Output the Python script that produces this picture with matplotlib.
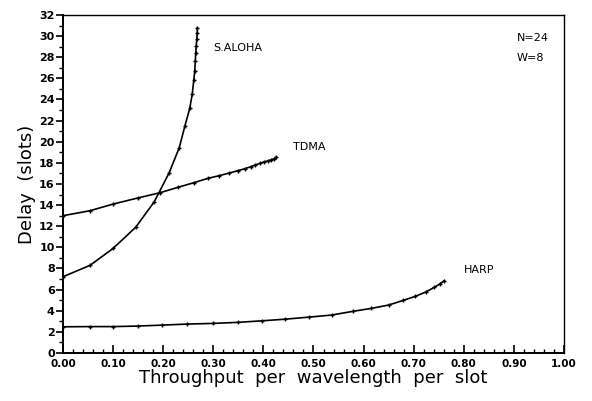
import matplotlib
matplotlib.use('Agg')
import matplotlib.pyplot as plt
from matplotlib.ticker import MultipleLocator

# S.ALOHA curve (throughput, delay)
aloha_x = [0.0, 0.054, 0.100, 0.145, 0.182, 0.212, 0.232, 0.2435, 0.253, 0.258,
           0.261, 0.263, 0.264, 0.265, 0.266, 0.267, 0.268, 0.268]
aloha_y = [7.22, 8.3, 9.9, 11.9, 14.3, 17.07, 19.43, 21.52, 23.16, 24.52,
           25.8, 26.7, 27.6, 28.4, 29.1, 29.7, 30.3, 30.8]

# TDMA curve
tdma_x = [0.0, 0.054, 0.100, 0.149, 0.194, 0.229, 0.261, 0.289, 0.311, 0.332,
          0.349, 0.363, 0.375, 0.384, 0.393, 0.402, 0.410, 0.416, 0.422, 0.426]
tdma_y = [13.0, 13.47, 14.1, 14.67, 15.18, 15.68, 16.12, 16.53, 16.78, 17.04,
          17.26, 17.45, 17.64, 17.8, 17.95, 18.1, 18.2, 18.3, 18.4, 18.55]

# HARP curve
harp_x = [0.0, 0.053, 0.100, 0.149, 0.198, 0.248, 0.299, 0.349, 0.398, 0.443,
          0.492, 0.536, 0.578, 0.615, 0.650, 0.679, 0.703, 0.724, 0.741, 0.752, 0.761]
harp_y = [2.48, 2.5, 2.5, 2.55, 2.64, 2.74, 2.8, 2.9, 3.05, 3.2,
          3.4, 3.59, 3.94, 4.22, 4.54, 4.98, 5.36, 5.77, 6.21, 6.53, 6.84]

fig = plt.figure(figsize=(5.92, 4.01), dpi=100)
ax = fig.add_axes([0.1064, 0.1197, 0.8463, 0.8429])

style = dict(color='black', linewidth=1.2, marker='+', markersize=3, markeredgewidth=1.0)
ax.plot(aloha_x, aloha_y, **style)
ax.plot(tdma_x, tdma_y, **style)
ax.plot(harp_x, harp_y, **style)

ax.text(0.30, 28.6, 'S.ALOHA', fontsize=8)
ax.text(0.46, 19.2, 'TDMA', fontsize=8)
ax.text(0.80, 7.6, 'HARP', fontsize=8)
ax.text(0.905, 29.5, 'N=24', fontsize=8)
ax.text(0.905, 27.6, 'W=8', fontsize=8)

ax.set_xlim(0, 1.0)
ax.set_ylim(0, 32)
ax.xaxis.set_major_locator(MultipleLocator(0.1))
ax.xaxis.set_minor_locator(MultipleLocator(0.02))
ax.yaxis.set_major_locator(MultipleLocator(2))
ax.yaxis.set_minor_locator(MultipleLocator(1))
ax.set_xticks([i / 10 for i in range(11)])
ax.set_xticklabels(['%.2f' % (i / 10) for i in range(11)])

ax.tick_params(axis='x', which='major', direction='in', length=6, width=1.2,
               labelsize=7.5, pad=4)
ax.tick_params(axis='x', which='minor', direction='in', length=3, width=1.0)
ax.tick_params(axis='y', which='major', direction='out', length=5, width=1.2,
               labelsize=8, pad=1)
ax.tick_params(axis='y', which='minor', direction='out', length=3, width=1.0)
for lab in ax.get_xticklabels() + ax.get_yticklabels():
    lab.set_fontweight('bold')

ax.spines['left'].set_linewidth(1.4)
ax.spines['bottom'].set_linewidth(1.4)
ax.spines['top'].set_linewidth(1.0)
ax.spines['right'].set_linewidth(1.0)

ax.set_xlabel('Throughput  per  wavelength  per  slot', fontsize=13, labelpad=0)
ax.set_ylabel('Delay  (slots)', fontsize=13, labelpad=2)

fig.savefig('out.png', dpi=100)
